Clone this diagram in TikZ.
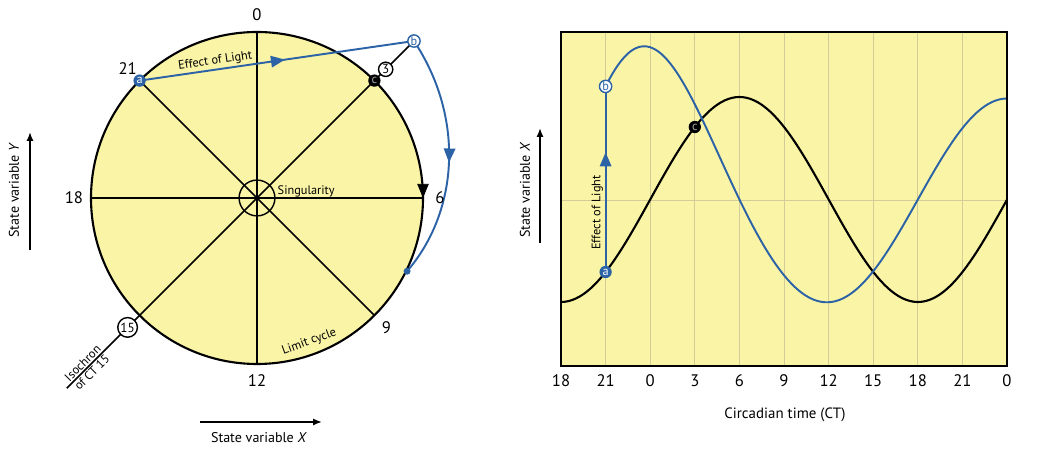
\documentclass[tikz,border=0pt]{standalone}
\usepackage{fontspec}
\setmainfont{PT Sans}
\usetikzlibrary{positioning,arrows.meta,decorations.markings}
\definecolor{cycyellow}{HTML}{FAF4A6}
\definecolor{lightcol}{HTML}{2C63A6}
\definecolor{gridcol}{HTML}{D3CC98}

\begin{document}
\begin{tikzpicture}[x=0.02cm,y=0.02cm,node distance=4pt]
  \tikzstyle{clock}=[font=\fontsize{9.5}{11}\selectfont,inner sep=0pt]
  \tikzstyle{small}=[font=\fontsize{7}{9}\selectfont,inner sep=1pt,text=black]
  \tikzstyle{axlabel}=[font=\fontsize{8}{10}\selectfont,inner sep=0pt]
  \tikzstyle{ring}=[circle,draw,fill=white,thick,inner sep=0.5pt,minimum size=8pt,font=\fontsize{7.5}{8}\selectfont]
  \tikzstyle{pt}=[circle,inner sep=0pt,minimum size=7pt,font=\fontsize{7}{8}\selectfont]
  \tikzstyle{spoke}=[line width=1pt]
  \tikzstyle{curve}=[line width=1.2pt]
  \tikzstyle{lightline}=[lightcol,line width=1.1pt]
  \tikzstyle{axis}=[line width=1.1pt,-{Latex[length=5pt,width=4pt]}]
  \tikzset{midarrow/.style={postaction={decorate,decoration={markings,mark=at position #1 with {\arrow{Triangle[length=8pt,width=6.5pt]}}}}}}
  \useasboundingbox (0,0) rectangle (1046,450);

  \coordinate (O) at (257,252);
  \fill[cycyellow] (O) circle (166);
  \foreach \h/\ang in {0/90,3/45,6/0,9/-45,12/-90,15/-135,18/180,21/135}
    \coordinate (p\h) at ([shift={(\ang:166)}]O);
  \foreach \u/\v in {0/12,3/15,6/18,9/21}
    \draw[spoke] (p\u) -- (p\v);
  \draw[line width=1.2pt] (O) circle (166);
  \draw[-{Triangle[length=8pt,width=6.5pt]}] ([shift={(9:166)}]O) arc (9:0:166);

  \coordinate (pb) at ([shift={(45:222)}]O);
  \coordinate (iso) at ([shift={(225:269)}]O);
  \coordinate (land) at ([shift={(-26:167)}]O);
  \draw[spoke] (p3) -- (pb);
  \draw[spoke] (p15) -- (iso);
  \draw[lightline,midarrow=0.53] (p21) -- node[small,sloped,above,pos=0.28] {Effect of Light} (pb);
  \begin{scope}[shift={(O)}]
    \draw[lightline,midarrow=0.52] plot[smooth,domain=45:-26,samples=36] (\x:{222-0.775*(45-\x)});
  \end{scope}
  \fill[lightcol] (land) circle (3.5);

  \node[circle,draw,thick,minimum size=20.4pt] (sing) at (O) {};
  \node[small,right=0pt of sing.east,yshift=4pt] {Singularity};
  \foreach \h/\ang in {0/90,6/0,9/-45,12/-90,18/180,21/135}
    \node[clock] (l\h) at ([shift={(\ang:183)}]O) {\h};
  \node[ring] (l3) at ([shift={(45:182)}]O) {3};
  \node[ring] (l15) at ([shift={(225:183)}]O) {15};
  \node[small,rotate=45,anchor=south] (isolab1) at ([shift={(225:240)}]O) {Isochron};
  \node[small,rotate=45,anchor=north] (isolab2) at ([shift={(225:240)}]O) {of CT 15};
  \node[small,rotate=20] (limit) at ([shift={(-70:153)}]O) {Limit cycle};
  \node[pt,fill=lightcol,text=white] (a) at (p21) {a};
  \node[pt,draw=lightcol,fill=white,text=lightcol,thick] (b) at (pb) {b};
  \node[pt,fill=black,text=gray!70] (c) at (p3) {c};

  \coordinate (ybot) at (30,200);
  \coordinate (ytop) at (30,318);
  \draw[axis] (ybot) -- (ytop);
  \node[axlabel,rotate=90] (ylab) at (14,260) {State variable \textit{Y}};
  \coordinate (xl) at (200,28);
  \coordinate (xr) at (322,28);
  \draw[axis] (xl) -- (xr);
  \node[axlabel] (xlab) at (259,12) {State variable \textit{X}};

  \fill[cycyellow] (561,84) rectangle (1007,418);
  \foreach \k in {1,...,9}
    \draw[gridcol,line width=0.4pt] ({561+44.6*\k},84) -- ({561+44.6*\k},418);
  \draw[gridcol,line width=0.4pt] (561,250) -- (1007,250);
  \draw[curve] plot[smooth,domain=0:30,samples=121] ({561+14.87*\x},{250.5-102.5*cos(15*\x)});
  \draw[lightline] plot[smooth,domain=3:30,samples=109] ({561+14.87*\x},{250.5+(101+59*exp(-((\x-3)*(\x-3))/64))*cos(15*(\x-6))});
  \draw[line width=1.3pt] (561,84) rectangle (1007,418);
  \foreach \lab [count=\k from 0] in {18,21,0,3,6,9,12,15,18,21,0}
    \node[clock] (t\k) at ({561+44.6*\k},69) {\lab};

  \coordinate (qa) at (605.6,178);
  \coordinate (qb) at (605.6,363.6);
  \coordinate (qc) at (694.8,323);
  \draw[lightline,midarrow=0.645] (qa) -- node[small,sloped,above,pos=0.32] {Effect of Light} (qb);
  \node[pt,fill=lightcol,text=white] (qanode) at (qa) {a};
  \node[pt,draw=lightcol,fill=white,text=lightcol,thick] (qbnode) at (qb) {b};
  \node[pt,fill=black,text=gray!70] (qcnode) at (qc) {c};

  \coordinate (vbot) at (540,207);
  \coordinate (vtop) at (540,322);
  \draw[axis] (vbot) -- (vtop);
  \node[axlabel,rotate=90] (vlab) at (525,260) {State variable \textit{X}};
  \node[axlabel,font=\fontsize{8.5}{10}\selectfont] (tlab) at (785,35) {Circadian time (CT)};
\end{tikzpicture}
\end{document}
